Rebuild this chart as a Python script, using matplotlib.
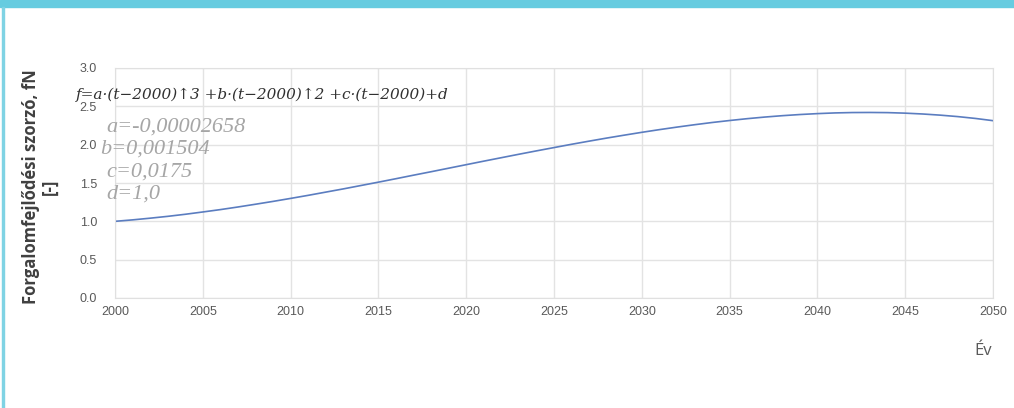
import matplotlib.pyplot as plt
from matplotlib.patches import Rectangle

# values, one per year
years = list(range(2000, 2051))
factor = [1.000, 1.019, 1.041, 1.065, 1.092, 1.122, 1.153, 1.187, 1.223, 1.260,
          1.299, 1.339, 1.381, 1.423, 1.467, 1.511, 1.556, 1.602, 1.647, 1.693,
          1.739, 1.785, 1.830, 1.875, 1.919, 1.962, 2.005, 2.046, 2.086, 2.124,
          2.161, 2.196, 2.229, 2.260, 2.289, 2.315, 2.339, 2.360, 2.378, 2.393,
          2.405, 2.414, 2.419, 2.420, 2.418, 2.411, 2.400, 2.385, 2.366, 2.342,
          2.313]
x_ticks = [2000, 2005, 2010, 2015, 2020, 2025, 2030, 2035, 2040, 2045, 2050]
y_ticks = [0.0, 0.5, 1.0, 1.5, 2.0, 2.5, 3.0]
params = ['a=-0,00002658', 'b=0,001504', 'c=0,0175', 'd=1,0']

fig = plt.figure(figsize=(10.14, 4.08), dpi=100)
fig.patches.append(Rectangle((0, 1 - 7 / 408), 1, 7 / 408, transform=fig.transFigure,
                             color='#66cce0', zorder=0))
fig.patches.append(Rectangle((2 / 1014, 0), 2 / 1014, 1 - 7 / 408, transform=fig.transFigure,
                             color='#7fd3e4', zorder=0))

ax = fig.add_axes([115 / 1014, 1 - 298 / 408, 878 / 1014, 230 / 408])
ax.plot(years, factor, color='#5b7dc0', linewidth=1.2)

ax.set_xlim(2000, 2050)
ax.set_ylim(0, 3)
ax.set_xticks(x_ticks)
ax.set_yticks(y_ticks)
ax.set_yticklabels([f'{v:.1f}' for v in y_ticks])
ax.grid(True, color='#e3e3e3', linewidth=1)
ax.set_axisbelow(True)
for s in ax.spines.values():
    s.set_color('#e0e0e0')
ax.tick_params(length=0, labelsize=9, colors='#595959')
ax.tick_params(axis='y', pad=13)
ax.tick_params(axis='x', pad=6)
for lab in ax.get_xticklabels() + ax.get_yticklabels():
    lab.set_family('Liberation Sans')

fig.text(40 / 1014, 1 - 187 / 408, 'Forgalomfejlődési szorzó, fN\n[-]', rotation=90,
         ha='center', va='center', multialignment='center', fontsize=12,
         fontweight='bold', color='#404040', family='Open Sans', linespacing=1.05)
fig.text(983 / 1014, 1 - 351 / 408, 'Év', ha='center', va='center', fontsize=12,
         color='#595959', family='Open Sans')

fig.text(76 / 1014, 1 - 95 / 408, 'f=a·(t−2000)↑3 +b·(t−2000)↑2 +c·(t−2000)+d',
         ha='left', va='center', fontsize=11, style='italic', color='#303030',
         family='DejaVu Serif')
x_par = [106, 100, 106, 106]
y_par = [127, 149, 172, 194]
for txt, xp, yp in zip(params, x_par, y_par):
    fig.text(xp / 1014, 1 - yp / 408, txt, ha='left', va='center', fontsize=16,
             style='italic', color='#a6a6a6', family='Liberation Serif')

plt.savefig('out.png', dpi=100)
